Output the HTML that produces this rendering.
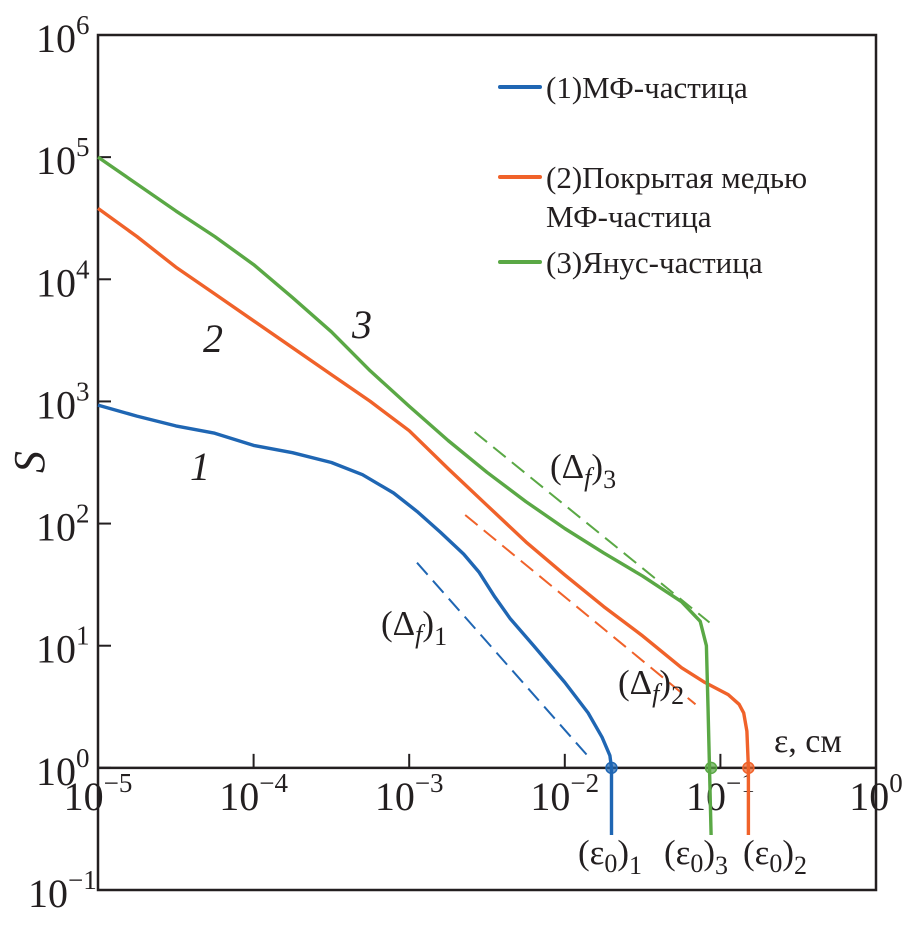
<!DOCTYPE html>
<html><head><meta charset="utf-8"><style>
body{margin:0;background:#fff}
svg text{font-family:"Liberation Serif","DejaVu Serif",serif;fill:#231f20}
</style></head><body>
<svg id="chart" width="908" height="921" viewBox="0 0 908 921" xmlns="http://www.w3.org/2000/svg" font-family="Liberation Serif, DejaVu Serif, serif">
<g id="axes"></g>
<g id="series"></g>
<g id="annot"></g>
</svg>
<script>
const xTicks=[-5,-4,-3,-2,-1,0];
const yTicks=[6,5,4,3,2,1,0,-1];
const blueX=[-5,-4.75,-4.5,-4.25,-4,-3.75,-3.5,-3.3,-3.1,-2.95,-2.8,-2.65,-2.55,-2.45,-2.35,-2.2,-2,-1.85,-1.76,-1.71,-1.70,-1.70];
const blueY=[2.97,2.88,2.8,2.74,2.64,2.58,2.5,2.4,2.25,2.1,1.93,1.75,1.6,1.4,1.22,1.0,0.7,0.45,0.25,0.1,0,-0.55];
const orangeX=[-5,-4.75,-4.5,-4.25,-4,-3.75,-3.5,-3.25,-3,-2.75,-2.5,-2.25,-2,-1.75,-1.5,-1.25,-1.1,-0.95,-0.88,-0.85,-0.83,-0.82,-0.82];
const orangeY=[4.58,4.35,4.1,3.88,3.66,3.44,3.22,3.0,2.76,2.45,2.15,1.85,1.58,1.32,1.08,0.82,0.7,0.6,0.52,0.45,0.3,0,-0.55];
const greenX=[-5,-4.75,-4.5,-4.25,-4,-3.75,-3.5,-3.25,-3,-2.75,-2.5,-2.25,-2,-1.75,-1.5,-1.25,-1.13,-1.09,-1.08,-1.07,-1.06];
const greenY=[5.0,4.78,4.56,4.35,4.12,3.85,3.57,3.25,2.96,2.68,2.42,2.18,1.96,1.76,1.57,1.36,1.2,1.0,0.5,0,-0.55];
const dashBlueX=[-2.95,-1.84], dashBlueY=[1.68,0.08];
const dashOrangeX=[-2.64,-1.16], dashOrangeY=[2.07,0.52];
const dashGreenX=[-2.58,-1.07], dashGreenY=[2.75,1.19];
const e0X=[-1.70,-1.06,-0.82];

const NS="http://www.w3.org/2000/svg";
const L=98,R=876,T=35,B=890;
function sx(v){return L+(v+5)*(R-L)/5;}
function sy(v){return B-(v+1)*(B-T)/7;}
function mk(tag,attrs,parent){const e=document.createElementNS(NS,tag);for(const k in attrs)e.setAttribute(k,attrs[k]);parent.appendChild(e);return e;}
const axes=document.getElementById('axes'),ser=document.getElementById('series'),an=document.getElementById('annot');

const frame=mk('rect',{x:L,y:T,width:R-L,height:B-T,fill:'none',stroke:'#231f20','stroke-width':2.5},axes);


const xl=mk('line',{x1:L,x2:R,y1:sy(0),y2:sy(0),stroke:'#231f20','stroke-width':2.5},axes);



xTicks.forEach(t=>{
  const x=sx(t);
  if(t>-5&&t<0){const tk=mk('line',{x1:x,x2:x,y1:sy(0),y2:sy(0)-14,stroke:'#231f20','stroke-width':2},axes);
  
  }
  const tx=mk('text',{x:x,y:810,'font-size':40,'text-anchor':'middle'},axes);
  
  
  tx.innerHTML='10<tspan dy="-18" font-size="27">'+(t<0?'\u2212'+(-t):t)+'</tspan>';
});
yTicks.forEach(t=>{
  const y=sy(t);
  if(t<6&&t>-1){const tk=mk('line',{x1:L,x2:L+13,y1:y,y2:y,stroke:'#231f20','stroke-width':2},axes);
  
  }
  const tx=mk('text',{x:t<0?28:36,y:y+17,'font-size':40},axes);
  
  
  tx.innerHTML='10<tspan dy="-18" font-size="27">'+(t<0?'\u2212'+(-t):t)+'</tspan>';
});
const yt=mk('text',{x:0,y:0,'font-size':44,'font-style':'italic',transform:'translate(44,462) rotate(-90)','text-anchor':'middle'},axes);


yt.textContent='S';
const xt=mk('text',{x:774,y:752,'font-size':34},axes);


xt.textContent='ε, см';

function line(xs,ys,col,name,dash){
  const d=xs.map((v,i)=>(i?'L':'M')+sx(v).toFixed(1)+','+sy(ys[i]).toFixed(1)).join('');
  const p=mk('path',{d:d,fill:'none',stroke:col,'stroke-width':dash?2:3.4,'stroke-linejoin':'round'},ser);
  if(dash)p.setAttribute('stroke-dasharray','16,8');
  
  
}
const cB='#1f66b3',cO='#f0622a',cG='#5aa845';
line(blueX,blueY,cB,'series-1-line');
line(orangeX,orangeY,cO,'series-2-line');
line(greenX,greenY,cG,'series-3-line');
line(dashBlueX,dashBlueY,cB,'slope-1-dashed',1);
line(dashOrangeX,dashOrangeY,cO,'slope-2-dashed',1);
line(dashGreenX,dashGreenY,cG,'slope-3-dashed',1);
[cB,cG,cO].forEach((c,i)=>{
  const m=mk('circle',{cx:sx(e0X[i]),cy:sy(0),r:5.5,fill:c,stroke:c,'stroke-width':1.5,'fill-opacity':0.7},ser);
  
  
});

const leg=[[cB,87,'(1)МФ-частица'],[cO,177,'(2)Покрытая медью'],[cG,262,'(3)Янус-частица']];
leg.forEach(([c,y,t])=>{
  const l=mk('line',{x1:500,x2:540,y1:y,y2:y,stroke:c,'stroke-width':4,'stroke-linecap':'round'},an);
  
  
  const tx=mk('text',{x:546,y:y+11,'font-size':31},an);
  
  
  tx.textContent=t;
});
const l2=mk('text',{x:546,y:227,'font-size':31},an);


l2.textContent='МФ-частица';

function lab(x,y,html,name,sz,it){
  const t=mk('text',{x:x,y:y,'font-size':sz||34},an);
  if(it)t.setAttribute('font-style','italic');
  
  
  t.innerHTML=html;
}
lab(190,480,'1','curve-label-1',40,1);
lab(203,352,'2','curve-label-2',40,1);
lab(352,338,'3','curve-label-3',40,1);
const D='(Δ<tspan font-style="italic" dy="8" font-size="26">f</tspan><tspan dy="-8">)</tspan><tspan dy="10" font-size="26">';
lab(550,478,D+'3</tspan>','delta-f-3',35);
lab(381,635,D+'1</tspan>','delta-f-1',35);
lab(618,694,D+'2</tspan>','delta-f-2',35);
const E='(ε<tspan dy="8" font-size="26">0</tspan><tspan dy="-8">)</tspan><tspan dy="10" font-size="26">';
lab(578,864,E+'1</tspan>','epsilon0-1-label',35);
lab(664,864,E+'3</tspan>','epsilon0-3-label',35);
lab(743,864,E+'2</tspan>','epsilon0-2-label',35);
</script>
</body></html>
